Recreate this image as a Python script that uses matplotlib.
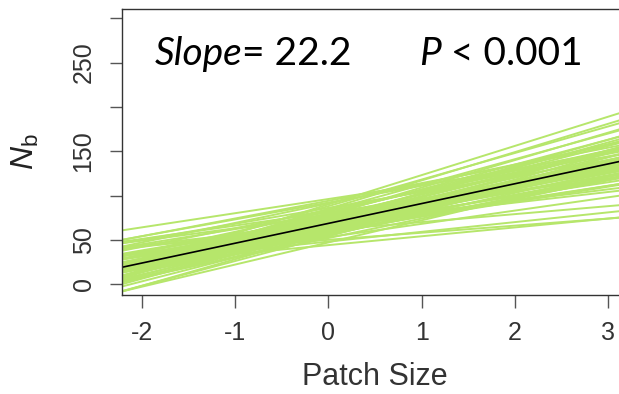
import matplotlib
matplotlib.use("Agg")
import matplotlib.pyplot as plt

plt.rcParams['font.family'] = ['Liberation Sans', 'DejaVu Sans']
plt.rcParams['mathtext.fontset'] = 'custom'
plt.rcParams['mathtext.rm'] = 'Liberation Sans'
plt.rcParams['mathtext.it'] = 'Liberation Sans:italic'

# posterior draws of the regression line (value at patch size 0, slope)
draw_intercepts = [68, 72, 61, 75, 66, 59, 80, 70, 64, 77, 55, 69, 73, 62, 84, 67,
                   58, 71, 65, 90, 63, 74, 57, 69, 78, 52, 66, 71, 60, 82, 68, 64,
                   76, 47, 70, 62, 86, 67, 73, 56, 69, 79, 61, 65, 94, 72, 59, 68,
                   74, 63, 44, 70, 66, 81, 58, 71, 64, 77, 53, 69, 67, 75, 60, 88,
                   65, 72, 62, 68, 70, 57, 96, 85, 50, 92, 48, 83, 54, 91, 73, 79]
draw_slopes = [22, 24, 20, 21, 28, 17, 26, 19, 23, 14, 24, 22, 29, 27, 21, 16,
               30, 19, 23, 33, 16, 25, 27, 20, 31, 22, 21, 17, 26, 23, 12, 25,
               20, 25, 22, 19, 18, 24, 26, 21, 23, 28, 9, 25, 20, 22, 24, 27,
               18, 22, 10, 21, 19, 15, 25, 23, 29, 24, 15, 21, 24, 27, 17, 30,
               20, 26, 24, 13, 23, 20, 16, 32, 8, 19, 11, 29, 28, 22, 30, 17]

mean_intercept = 68.5
mean_slope = 22.4
slope_text = "22.2"
p_text = "< 0.001"

x_ticks = [-2, -1, 0, 1, 2, 3]
y_ticks = [0, 50, 100, 150, 200, 250, 300]
y_ticklabels = ["0", "50", "", "150", "", "250", ""]

fig = plt.figure(figsize=(6.19, 3.94), dpi=100)
ax = fig.add_axes([0.197, 0.251, 0.816, 0.726])

for a, b in zip(draw_intercepts, draw_slopes):
    ax.axline((0, a), slope=b, color='#b6e66b', lw=1.4, zorder=1)
ax.axline((0, mean_intercept), slope=mean_slope, color='black', lw=1.2, zorder=2)

ax.set_xlim(-2.21, 3.2)
ax.set_ylim(-12.4, 310.4)
ax.set_xticks(x_ticks)
ax.set_xticklabels([str(v) for v in x_ticks])
ax.set_yticks(y_ticks)
ax.set_yticklabels(y_ticklabels, rotation=90, va='center')

for s in ax.spines.values():
    s.set_color('#333333')
    s.set_linewidth(1.0)
ax.tick_params(axis='both', length=9, width=1.0, color='#555555',
               labelsize=18, labelcolor='#333333', pad=10)

ax.set_xlabel("Patch Size", fontsize=22, color='#333333', labelpad=12)
ax.set_ylabel(r"$N_{\mathrm{b}}$", fontsize=23, color='#222222', labelpad=22)

txt_font = ['Lato', 'DejaVu Sans']
t1 = fig.text(0.250, 0.835, "Slope", family=txt_font, style='italic',
              fontsize=28, va='baseline', ha='left')
ax.annotate("= " + slope_text, xy=(1, 0), xycoords=t1, va='bottom', ha='left',
            family=txt_font, fontsize=28)
t2 = fig.text(0.677, 0.835, "P", family=txt_font, style='italic', fontsize=28,
              va='baseline', ha='left')
ax.annotate(" " + p_text, xy=(1, 0), xycoords=t2, va='bottom', ha='left',
            family=txt_font, fontsize=28)

fig.savefig("out.png", dpi=100)
